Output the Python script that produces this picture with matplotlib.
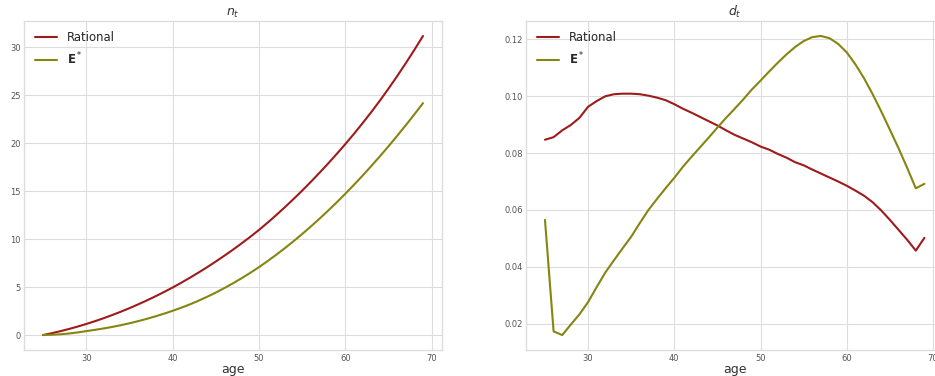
import matplotlib
matplotlib.use("Agg")
import matplotlib.pyplot as plt

ages = list(range(25, 70))

n_rational = [0.00, 0.19, 0.40, 0.63, 0.88, 1.15, 1.44, 1.75, 2.08, 2.43,
              2.80, 3.19, 3.60, 4.03, 4.48, 4.95, 5.45, 5.97, 6.51, 7.07,
              7.66, 8.27, 8.90, 9.56, 10.24, 10.95, 11.71, 12.50, 13.32, 14.17,
              15.05, 15.96, 16.90, 17.87, 18.87, 19.90, 20.97, 22.08, 23.23, 24.43,
              25.68, 26.98, 28.33, 29.73, 31.18]

n_estar = [0.00, 0.03, 0.08, 0.16, 0.27, 0.41, 0.54, 0.685, 0.845, 1.025,
           1.225, 1.445, 1.685, 1.945, 2.225, 2.525, 2.845, 3.195, 3.575, 3.985,
           4.425, 4.895, 5.395, 5.925, 6.485, 7.075, 7.705, 8.365, 9.055, 9.775,
           10.525, 11.305, 12.115, 12.955, 13.825, 14.725, 15.655, 16.615, 17.605, 18.625,
           19.675, 20.755, 21.865, 23.005, 24.175]

d_rational = [0.0847, 0.0856, 0.0880, 0.0899, 0.0924, 0.0963, 0.0983, 0.1000, 0.1007, 0.1009,
              0.1009, 0.1007, 0.1002, 0.0995, 0.0986, 0.0972, 0.0956, 0.0942, 0.0927, 0.0912,
              0.0897, 0.0880, 0.0864, 0.0851, 0.0838, 0.0823, 0.0812, 0.0797, 0.0784, 0.0768,
              0.0757, 0.0742, 0.0728, 0.0714, 0.0700, 0.0685, 0.0668, 0.0650, 0.0627, 0.0598,
              0.0565, 0.0530, 0.0495, 0.0457, 0.0502]

d_estar = [0.0565, 0.0173, 0.0160, 0.0197, 0.0233, 0.0276, 0.0329, 0.0380, 0.0423, 0.0465,
           0.0506, 0.0554, 0.0600, 0.0639, 0.0677, 0.0713, 0.0752, 0.0787, 0.0821, 0.0855,
           0.0890, 0.0924, 0.0956, 0.0989, 0.1024, 0.1055, 0.1087, 0.1118, 0.1147, 0.1173,
           0.1194, 0.1208, 0.1212, 0.1204, 0.1184, 0.1154, 0.1112, 0.1063, 0.1007, 0.0946,
           0.0882, 0.0817, 0.0748, 0.0676, 0.0692]

series_labels = ["Rational", r"$\mathbf{E}^*$"]
titles = [r"$n_t$", r"$d_t$"]

plt.style.use("seaborn-v0_8-whitegrid")
plt.rcParams['font.family'] = ['DejaVu Sans']

W, H = 935, 376
fig = plt.figure(figsize=(W / 100, H / 100), dpi=100)

c_red = "#9e1b1b"
c_olive = "#858510"

def place(l, r, t, b):
    return [l / W, 1 - b / H, (r - l) / W, (b - t) / H]

ax1 = fig.add_axes(place(24, 442, 21, 350))
ax2 = fig.add_axes(place(526, 943.4, 21, 350))

for ax, (ra, ea), title in zip([ax1, ax2], [(n_rational, n_estar), (d_rational, d_estar)], titles):
    ax.plot(ages, ra, color=c_red, lw=1.5, label=series_labels[0])
    ax.plot(ages, ea, color=c_olive, lw=1.5, label=series_labels[1])
    ax.set_title(title, fontsize=9, color="#333333", pad=4)
    ax.set_xlabel("age", fontsize=9, color="#333333", labelpad=0)
    ax.tick_params(axis="both", labelsize=6, colors="#555555", length=0)
    ax.tick_params(axis="x", pad=3)
    ax.tick_params(axis="y", pad=2.5)
    ax.grid(True, color="#dddddd", lw=0.8)
    for s in ax.spines.values():
        s.set_color("#dddddd")
        s.set_linewidth(1.0)
    ax.legend(loc="upper left", frameon=False, fontsize=8.4, handlelength=1.9,
              handletextpad=0.9, labelspacing=0.5, borderaxespad=0.5)

fig.savefig("out.png", dpi=100)
